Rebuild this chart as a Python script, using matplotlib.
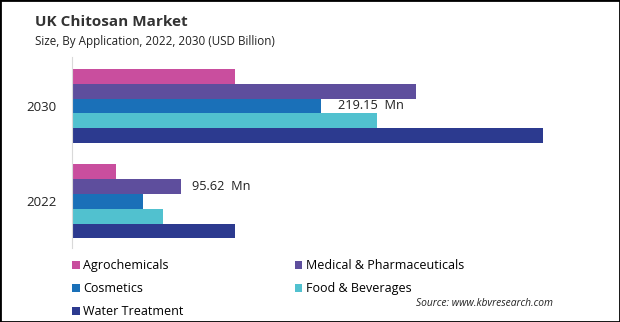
import numpy as np
import matplotlib.pyplot as plt
from matplotlib.patches import Rectangle

# data (USD Mn)
years = ["2022", "2030"]
categories = ["Agrochemicals", "Medical & Pharmaceuticals", "Cosmetics",
              "Food & Beverages", "Water Treatment"]
colors = ["#C94E9E", "#5E4E9D", "#1A70B8", "#51C1CF", "#2C3A8F"]
vals_2022 = [38.7, 95.62, 62.2, 80.1, 143.2]
vals_2030 = [143.2, 303.3, 219.15, 269.0, 415.0]

# which bar gets a label: (year index, category index, text, offset px)
labels = [(1, 2, "219.15  Mn", 17), (0, 1, "95.62  Mn", 11)]

plt.rcParams['font.family'] = ['Open Sans', 'DejaVu Sans']

fig = plt.figure(figsize=(6.2, 3.22), dpi=100)
ax = fig.add_axes([72 / 620, 1 - 248 / 322, 528 / 620, 191 / 322])

h = 0.155
ypos = np.arange(len(years))
data = np.array([vals_2022, vals_2030])
handles = []
for i, cat in enumerate(categories):
    b = ax.barh(ypos + (2 - i) * h, data[:, i], height=h, color=colors[i],
                label=cat, linewidth=0)
    handles.append(b)

for yi, ci, txt, off in labels:
    ax.annotate(txt, xy=(data[yi, ci], ypos[yi] + (2 - ci) * h),
                xytext=(off, 0), textcoords="offset pixels",
                va="center", ha="left", fontsize=9.2, color="#222222")

ax.set_xlim(0, 465)
ax.set_ylim(-0.487, 1.513)
ax.set_yticks(ypos)
ax.set_yticklabels(years, fontsize=9.5, color="#222222")
ax.tick_params(axis="y", length=0, pad=11)
ax.set_xticks([])
for s in ["top", "right", "bottom"]:
    ax.spines[s].set_visible(False)
ax.spines["left"].set_color("#d9d9d9")

fig.text(35 / 620, 1 - 22 / 322, "UK Chitosan Market", fontsize=11,
         fontweight="bold", color="#333333", va="center")
fig.text(35 / 620, 1 - 42 / 322, "Size, By Application, 2022, 2030 (USD Billion)",
         fontsize=8.4, color="#222222", va="center")

order = [0, 2, 4, 1, 3]
fig.legend([handles[k] for k in order], [categories[k] for k in order],
           ncol=2, loc="upper left", bbox_to_anchor=(72 / 620, 1 - 259 / 322),
           frameon=False, fontsize=9, handlelength=0.6, handleheight=0.6,
           handletextpad=0.3, labelspacing=0.8, columnspacing=8.9,
           borderaxespad=0, borderpad=0)

fig.text(553 / 620, 1 - 304 / 322, "Source: www.kbvresearch.com", fontsize=7.4,
         style="italic", ha="right", va="center", color="#222222")

fig.patches.append(Rectangle((0, 0), 1, 1, transform=fig.transFigure,
                             fill=False, edgecolor="black", linewidth=2))

fig.savefig("out.png", dpi=100)
